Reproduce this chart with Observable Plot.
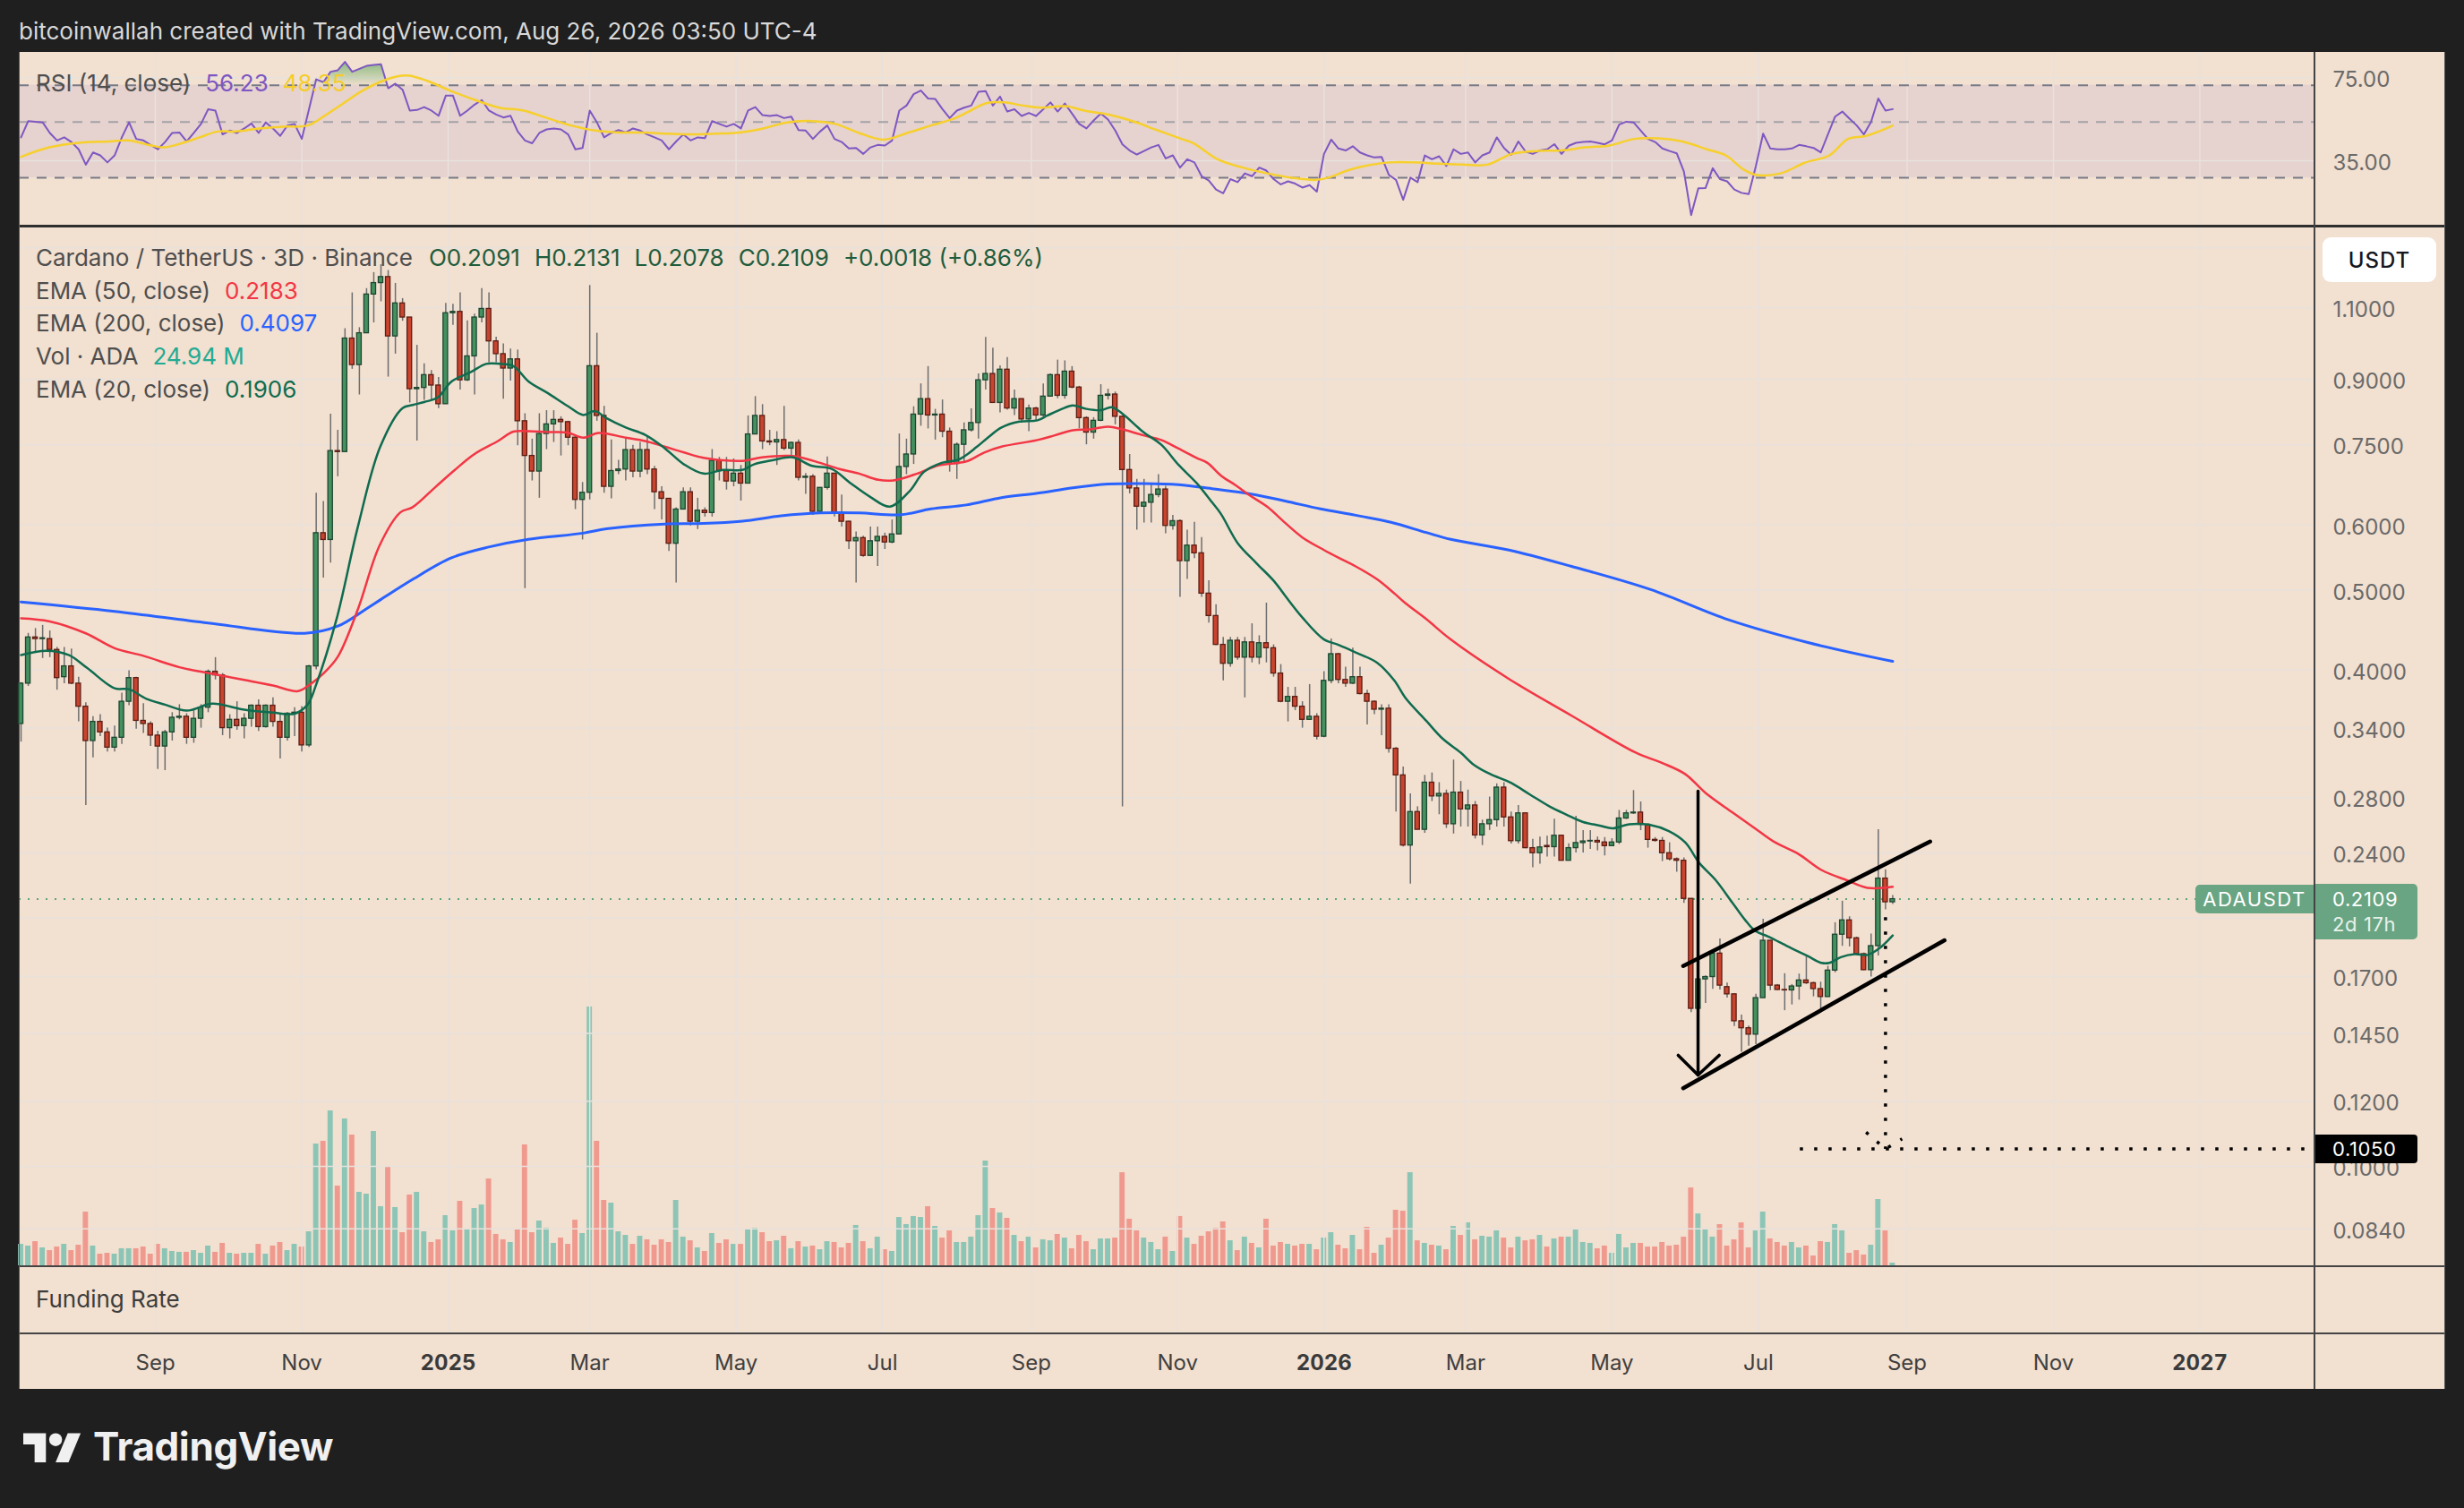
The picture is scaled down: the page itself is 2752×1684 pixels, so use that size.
<!DOCTYPE html>
<html>
<head>
<meta charset="utf-8">
<script src="https://cdn.jsdelivr.net/npm/d3@7"></script>
<script src="https://cdn.jsdelivr.net/npm/@observablehq/plot@0.6"></script>
<style>
  html, body { margin: 0; padding: 0; background: #1f1f1f; }
  #page { position: relative; width: 2752px; height: 1684px; background: #1f1f1f; overflow: hidden; font-family: Inter, "Noto Sans", sans-serif; }
  .abs { position: absolute; }
  .legend { position: absolute; left: 40px; font-size: 26px; line-height: 30px; color: #4e4e4e; white-space: nowrap; }
  .legend .v { margin-left: 16px; }
  .sep { position: absolute; background: #444; }
  .badge { position: absolute; color: #fff; font-size: 22px; box-sizing: border-box; letter-spacing: 0.6px; }
</style>
</head>
<body>
<div id="page">
  <div class="abs" style="left:21px;top:19px;font-size:26px;line-height:32px;color:#d8d8d8;">bitcoinwallah created with TradingView.com, Aug 26, 2026 03:50 UTC-4</div>
  <div class="abs" style="left:21px;top:58px;width:2710px;height:1493px;background:#f2e0d0;"></div>
  <div id="rsi" class="abs" style="left:21px;top:58px;width:2710px;height:193px;"></div>
  <div id="vol" class="abs" style="left:21px;top:253px;width:2710px;height:1160px;"></div>
  <div id="price" class="abs" style="left:21px;top:253px;width:2710px;height:1160px;"></div>
  <div id="bottom" class="abs" style="left:21px;top:1415px;width:2710px;height:136px;"></div>

  <div class="sep" style="left:21px;top:251px;width:2710px;height:3px;background:#2e2e2e;"></div>
  <div class="sep" style="left:21px;top:1413px;width:2710px;height:2px;"></div>
  <div class="sep" style="left:21px;top:1488px;width:2710px;height:2px;"></div>
  <div class="sep" style="left:2584px;top:58px;width:2px;height:1493px;"></div>
  <div class="sep" style="left:21px;top:58px;width:1px;height:1493px;background:#5a5a5a;"></div>
  <div class="sep" style="left:2730px;top:58px;width:1px;height:1493px;background:#5a5a5a;"></div>

  <div class="legend" style="top:78px;">RSI (14, close)<span class="v" style="color:#7e57c2">56.23</span><span class="v" style="color:#f5cd2a">48.35</span></div>
  <div class="legend" style="top:273px;">Cardano / TetherUS · 3D · Binance<span class="v" style="color:#1f5c3d;margin-left:18px">O0.2091</span><span class="v" style="color:#1f5c3d">H0.2131</span><span class="v" style="color:#1f5c3d">L0.2078</span><span class="v" style="color:#1f5c3d">C0.2109</span><span class="v" style="color:#1f5c3d">+0.0018 (+0.86%)</span></div>
  <div class="legend" style="top:310px;">EMA (50, close)<span class="v" style="color:#f23645">0.2183</span></div>
  <div class="legend" style="top:346px;">EMA (200, close)<span class="v" style="color:#2962ff">0.4097</span></div>
  <div class="legend" style="top:383px;">Vol · ADA<span class="v" style="color:#22ab94">24.94 M</span></div>
  <div class="legend" style="top:420px;">EMA (20, close)<span class="v" style="color:#0f6b4f">0.1906</span></div>
  <div class="legend" style="top:1436px;color:#3d3d3d;">Funding Rate</div>

  <div class="abs" style="left:2594px;top:265px;width:127px;height:50px;background:#fff;border-radius:9px;display:flex;align-items:center;justify-content:center;font-size:24px;color:#131722;font-weight:500;letter-spacing:1px;">USDT</div>
  <div id="badges" class="abs" style="left:0;top:0;"></div>

  <svg class="abs" style="left:26px;top:1593px" width="65" height="51" viewBox="0 0 36 28"><path fill="#f0f0f0" d="M14 22H7V11H0V4h14v18zM28 22h-8l7.5-18h8L28 22z"/><circle fill="#f0f0f0" cx="20" cy="8" r="4"/></svg>
  <div class="abs" style="left:104px;top:1590px;font-size:44px;line-height:50px;font-weight:700;color:#f0f0f0;letter-spacing:-0.4px;">TradingView</div>
</div>
<script>
// ---------- time base ----------
const DAY = 864e5;
const firstCandleOpen = Date.UTC(2024, 6, 7);   // first 3D candle shown
const candleDays = 3;
const at = i => new Date(firstCandleOpen + i * candleDays * DAY);
const xDomain = [new Date(Date.UTC(2024, 6, 6, 6)), new Date(Date.UTC(2027, 1, 17, 23))];

// ---------- scales / ticks ----------
const priceDomain = [0.07578, 1.3775];
const priceGridTicks = [1.3, 1.1, 0.9, 0.75, 0.6, 0.5, 0.4, 0.34, 0.28, 0.24, 0.2, 0.17, 0.145, 0.12, 0.1, 0.084];
const priceLabelTicks = [1.1, 0.9, 0.75, 0.6, 0.5, 0.4, 0.34, 0.28, 0.24, 0.17, 0.145, 0.12, 0.1, 0.084];
const rsiDomain = [19.4, 94.6];
const rsiTicks = [75, 35];
const rsiUpper = 70, rsiMiddle = 50, rsiLower = 30;
const volumeDomain = [0, 9630];
const timeTickDates = ["2024-09-01","2024-11-01","2025-01-01","2025-03-01","2025-05-01","2025-07-01","2025-09-01","2025-11-01","2026-01-01","2026-03-01","2026-05-01","2026-07-01","2026-09-01","2026-11-01","2027-01-01"];
const timeTickLabels = ["Sep","Nov","2025","Mar","May","Jul","Sep","Nov","2026","Mar","May","Jul","Sep","Nov","2027"];

// ---------- OHLC (ADA/USDT, 3D) ----------
const opens = [0.344,0.385,0.438,0.436,0.436,0.423,0.392,0.404,0.385,0.361,
0.328,0.346,0.336,0.322,0.331,0.366,0.391,0.347,0.344,0.333,
0.323,0.336,0.350,0.351,0.331,0.349,0.360,0.398,0.394,0.340,
0.348,0.342,0.349,0.362,0.341,0.362,0.346,0.331,0.354,0.355,
0.324,0.404,0.586,0.575,0.737,0.735,1.009,0.937,1.024,1.141,
1.178,1.198,1.015,1.113,1.070,0.876,0.879,0.911,0.885,0.840,
1.083,1.087,0.898,0.960,1.070,1.096,1.001,0.966,0.928,0.952,
0.801,0.727,0.696,0.773,0.794,0.804,0.799,0.765,0.643,0.656,
0.934,0.813,0.667,0.697,0.700,0.739,0.696,0.739,0.700,0.657,
0.645,0.569,0.626,0.657,0.605,0.624,0.620,0.717,0.697,0.677,
0.692,0.673,0.772,0.813,0.757,0.755,0.760,0.742,0.754,0.684,
0.686,0.622,0.665,0.692,0.620,0.605,0.573,0.578,0.550,0.573,
0.580,0.571,0.584,0.705,0.730,0.816,0.852,0.814,0.816,0.778,
0.711,0.750,0.781,0.797,0.898,0.914,0.843,0.925,0.830,0.852,
0.805,0.830,0.814,0.858,0.911,0.860,0.920,0.880,0.808,0.776,
0.802,0.860,0.863,0.811,0.699,0.664,0.631,0.638,0.652,0.662,
0.598,0.606,0.542,0.566,0.554,0.495,0.465,0.429,0.407,0.434,
0.414,0.432,0.414,0.431,0.425,0.396,0.366,0.371,0.361,0.348,
0.351,0.332,0.388,0.418,0.389,0.385,0.392,0.374,0.366,0.358,
0.359,0.321,0.298,0.245,0.269,0.256,0.292,0.281,0.283,0.260,
0.284,0.271,0.274,0.252,0.260,0.263,0.288,0.265,0.248,0.268,
0.2432,0.2398,0.2447,0.2439,0.2518,0.2348,0.2432,0.2467,0.2478,0.2482,
0.2471,0.2446,0.2471,0.2642,0.268,0.2686,0.2596,0.2489,0.2482,0.2398,
0.2358,0.2348,0.2111,0.1553,0.1686,0.1697,0.1812,0.1650,0.1617,0.150,
0.1471,0.1445,0.160,0.1878,0.1657,0.1637,0.1635,0.1653,0.1681,0.1668,
0.1641,0.1605,0.1728,0.191,0.1988,0.1891,0.1809,0.173,0.185,0.2234,
0.2091];
const highs = [0.386,0.443,0.449,0.453,0.446,0.426,0.426,0.424,0.392,0.365,
0.351,0.353,0.340,0.342,0.375,0.399,0.392,0.364,0.346,0.337,
0.338,0.355,0.363,0.354,0.359,0.363,0.400,0.414,0.396,0.353,
0.366,0.354,0.363,0.368,0.363,0.370,0.354,0.355,0.360,0.361,
0.405,0.655,0.640,0.817,0.781,1.037,1.146,1.040,1.160,1.213,
1.240,1.220,1.177,1.128,1.070,0.990,0.940,0.923,0.905,1.113,
1.110,1.146,1.060,1.080,1.160,1.146,1.013,0.994,0.980,0.977,
0.818,0.762,0.818,0.825,0.825,0.811,0.801,0.768,0.675,1.170,
1.024,0.835,0.760,0.718,0.762,0.749,0.755,0.767,0.706,0.667,
0.645,0.629,0.665,0.665,0.646,0.629,0.740,0.724,0.724,0.721,
0.708,0.813,0.858,0.839,0.781,0.778,0.835,0.756,0.760,0.692,
0.690,0.665,0.725,0.692,0.652,0.606,0.588,0.581,0.596,0.596,
0.586,0.608,0.773,0.762,0.834,0.889,0.933,0.828,0.850,0.786,
0.754,0.797,0.829,0.914,1.012,0.982,0.935,0.957,0.874,0.852,
0.838,0.833,0.889,0.914,0.950,0.948,0.933,0.883,0.811,0.809,
0.887,0.876,0.869,0.814,0.730,0.681,0.681,0.674,0.690,0.668,
0.616,0.608,0.591,0.604,0.579,0.513,0.480,0.438,0.438,0.438,
0.438,0.455,0.440,0.482,0.429,0.406,0.381,0.381,0.366,0.384,
0.354,0.398,0.436,0.419,0.403,0.425,0.403,0.378,0.367,0.363,
0.363,0.322,0.305,0.283,0.273,0.298,0.300,0.292,0.286,0.311,
0.293,0.286,0.277,0.263,0.2805,0.291,0.292,0.269,0.274,0.268,
0.2492,0.2508,0.2514,0.2637,0.252,0.2462,0.2658,0.2555,0.2555,0.2509,
0.2505,0.2497,0.2702,0.2702,0.2856,0.2767,0.2603,0.2505,0.2505,0.2469,
0.2367,0.2367,0.2111,0.1733,0.1703,0.1823,0.1888,0.1669,0.1619,0.1526,
0.148,0.1617,0.1994,0.1878,0.1662,0.1713,0.1662,0.1711,0.1795,0.1673,
0.1673,0.1749,0.1975,0.2097,0.2008,0.1897,0.1815,0.1913,0.2561,0.2289,
0.2131];
const lows = [0.327,0.382,0.420,0.413,0.414,0.378,0.385,0.384,0.346,0.274,
0.313,0.332,0.318,0.318,0.325,0.362,0.339,0.335,0.323,0.303,
0.302,0.328,0.348,0.325,0.326,0.340,0.355,0.389,0.333,0.330,
0.338,0.330,0.341,0.337,0.340,0.341,0.312,0.328,0.332,0.318,
0.322,0.400,0.517,0.539,0.686,0.735,0.926,0.862,1.024,1.054,
1.118,0.906,0.966,1.059,0.843,0.758,0.849,0.849,0.830,0.840,
1.047,0.874,0.895,0.862,1.054,0.943,0.943,0.852,0.896,0.748,
0.502,0.678,0.646,0.740,0.755,0.727,0.748,0.626,0.575,0.643,
0.801,0.655,0.645,0.690,0.678,0.684,0.684,0.690,0.626,0.608,
0.557,0.510,0.626,0.598,0.592,0.613,0.613,0.678,0.661,0.667,
0.641,0.673,0.772,0.740,0.748,0.708,0.738,0.724,0.678,0.653,
0.616,0.620,0.661,0.613,0.596,0.560,0.510,0.548,0.549,0.534,
0.560,0.569,0.584,0.690,0.710,0.790,0.784,0.760,0.765,0.695,
0.681,0.713,0.777,0.762,0.874,0.842,0.820,0.826,0.814,0.800,
0.778,0.800,0.811,0.858,0.853,0.852,0.877,0.784,0.750,0.762,
0.800,0.850,0.793,0.273,0.654,0.591,0.603,0.603,0.647,0.585,
0.591,0.490,0.515,0.546,0.490,0.456,0.428,0.388,0.403,0.411,
0.370,0.408,0.406,0.408,0.392,0.365,0.346,0.357,0.340,0.348,
0.329,0.331,0.385,0.385,0.381,0.384,0.373,0.343,0.353,0.333,
0.317,0.269,0.244,0.220,0.256,0.2535,0.277,0.267,0.257,0.253,
0.258,0.258,0.2495,0.245,0.2555,0.258,0.258,0.246,0.246,0.2428,
0.2303,0.2326,0.2372,0.2372,0.2346,0.2346,0.240,0.240,0.2423,0.2414,
0.238,0.2444,0.2457,0.2635,0.2672,0.2554,0.2432,0.2473,0.2343,0.2346,
0.2274,0.2085,0.1537,0.1478,0.1577,0.164,0.1637,0.160,0.1478,0.1376,
0.1399,0.1405,0.160,0.1634,0.1634,0.1545,0.157,0.1591,0.1662,0.1606,
0.1535,0.1603,0.1717,0.1849,0.1846,0.1804,0.1728,0.1697,0.18,0.2047,
0.2078];
const closes = [0.385,0.438,0.436,0.437,0.423,0.391,0.404,0.385,0.361,0.328,
0.346,0.336,0.322,0.331,0.366,0.391,0.347,0.344,0.333,0.323,
0.336,0.350,0.351,0.331,0.349,0.360,0.398,0.394,0.340,0.348,
0.342,0.349,0.362,0.341,0.362,0.346,0.331,0.354,0.355,0.324,
0.404,0.586,0.575,0.737,0.735,1.009,0.937,1.024,1.141,1.178,
1.198,1.015,1.113,1.070,0.876,0.879,0.911,0.885,0.840,1.083,
1.087,0.898,0.960,1.070,1.096,1.001,0.966,0.928,0.952,0.801,
0.727,0.696,0.773,0.794,0.804,0.799,0.765,0.643,0.656,0.934,
0.813,0.667,0.697,0.700,0.739,0.696,0.739,0.700,0.657,0.645,
0.569,0.626,0.657,0.605,0.624,0.620,0.717,0.697,0.677,0.692,
0.673,0.772,0.813,0.757,0.755,0.760,0.742,0.754,0.684,0.686,
0.622,0.665,0.692,0.620,0.605,0.573,0.578,0.550,0.573,0.580,
0.571,0.584,0.705,0.730,0.816,0.852,0.814,0.816,0.778,0.711,
0.750,0.781,0.797,0.898,0.914,0.843,0.925,0.830,0.852,0.805,
0.830,0.814,0.858,0.911,0.860,0.920,0.880,0.808,0.776,0.802,
0.860,0.863,0.811,0.699,0.664,0.631,0.638,0.652,0.662,0.598,
0.606,0.542,0.566,0.554,0.495,0.465,0.429,0.407,0.434,0.414,
0.432,0.414,0.431,0.425,0.396,0.366,0.371,0.361,0.348,0.351,
0.332,0.388,0.418,0.389,0.385,0.392,0.374,0.366,0.358,0.359,
0.321,0.298,0.245,0.269,0.256,0.292,0.281,0.283,0.260,0.284,
0.271,0.274,0.252,0.260,0.263,0.288,0.265,0.248,0.268,0.2432,
0.2398,0.2437,0.2439,0.2518,0.2348,0.2432,0.2467,0.2478,0.2482,0.2471,
0.2446,0.2471,0.2642,0.268,0.2686,0.2596,0.2489,0.2482,0.2398,0.2358,
0.2348,0.2111,0.1553,0.1686,0.1697,0.1812,0.1657,0.1617,0.150,0.1471,
0.1445,0.160,0.1878,0.1657,0.1637,0.1635,0.1653,0.1681,0.1668,0.1641,
0.1605,0.1728,0.191,0.1988,0.1891,0.1809,0.173,0.185,0.2234,0.2091,
0.2109];

// ---------- volume (millions of ADA) ----------
const volumes = [199,183,224,166,141,174,199,141,191,498,
183,108,116,108,158,158,158,174,108,199,
158,133,125,125,141,116,183,125,208,116,
108,116,116,199,108,183,216,141,199,174,
315,1129,1154,1436,739,1361,1212,681,664,1245,
548,913,540,307,656,681,315,216,241,465,
324,598,340,531,564,805,291,241,216,340,
1121,307,415,349,208,257,199,423,299,2399,
1154,606,581,315,282,199,274,241,191,241,
216,606,266,232,166,133,299,208,241,199,
199,340,349,307,224,232,274,158,224,174,
183,149,224,216,166,208,374,224,158,266,
149,133,448,382,457,448,548,365,257,324,
216,216,266,465,971,531,490,440,282,224,
266,166,241,232,291,257,158,282,224,149,
249,249,257,863,432,324,257,216,149,266,
133,457,257,199,274,315,349,407,232,141,
266,208,166,432,183,216,199,183,199,199,
149,257,307,191,158,282,149,357,116,191,
257,515,506,863,232,208,191,183,149,365,
282,398,241,274,266,324,257,166,266,232,
241,282,174,249,266,266,332,216,208,158,
183,116,291,166,208,208,174,174,216,183,
191,266,722,481,332,266,382,183,241,398,
166,324,498,249,216,183,216,166,183,91,
224,216,382,324,116,141,100,191,614,324,
24.94];

// ---------- RSI(14) ----------
const rsiValues = [43.4,50.4,50.1,49.8,45.2,42.2,43.4,41.6,38.9,33.8,
37.8,36.8,34.5,36.8,43.4,49.8,42.8,42.2,40.5,38.9,
41.6,45.2,45.4,41.8,45.2,49.1,56.2,55.5,44.6,46.2,
45.2,47.1,49.3,45.2,49.8,47.1,44.0,48.4,49.1,42.8,
56.2,73.9,72.0,79.2,80.3,86.7,79.2,81.4,83.6,84.4,
84.8,68.1,71.0,67.2,55.5,55.8,57.3,55.5,52.9,63.6,
63.6,52.9,55.5,58.6,61.1,55.5,53.5,52.1,52.9,45.8,
42.2,41.1,45.2,46.7,47.1,46.7,44.6,38.9,39.4,55.5,
49.8,43.4,45.2,46.4,45.4,47.1,46.2,44.6,43.4,42.2,
38.9,41.8,44.6,42.2,43.4,43.1,50.4,49.1,47.9,49.1,
47.1,55.5,57.3,53.2,52.8,53.2,51.8,52.5,46.4,46.2,
42.8,45.8,48.4,42.8,41.6,39.2,39.4,37.3,39.6,40.5,
40.3,42.2,55.5,58.1,64.5,66.7,62.0,61.7,56.2,51.8,
55.5,57.0,58.1,65.9,66.3,58.1,63.1,55.0,56.2,52.8,
54.3,52.8,56.2,59.8,55.0,59.2,54.0,49.1,47.1,50.7,
54.0,51.1,46.2,40.7,38.5,37.1,38.3,39.6,40.5,35.8,
36.8,32.9,35.5,34.5,30.4,29.2,26.9,26.0,29.6,28.8,
31.2,30.4,32.9,32.0,29.6,28.2,29.0,28.4,27.4,28.0,
26.4,37.3,42.5,39.2,38.5,40.0,37.8,36.8,36.1,36.3,
30.8,29.4,24.5,30.0,28.8,36.8,35.5,36.5,33.4,38.9,
37.3,37.8,34.5,36.8,37.8,43.4,39.4,37.0,41.8,38.1,
37.3,38.5,38.9,40.8,37.3,40.2,41.3,41.6,41.8,41.3,
40.7,42.2,48.8,50.1,49.8,46.2,42.8,41.6,39.2,38.3,
37.5,31.7,21.3,27.2,27.3,32.7,29.6,29.0,26.9,26.1,
25.8,33.4,44.9,39.2,38.9,38.9,39.2,40.5,40.0,39.4,
37.8,44.6,52.5,55.0,51.5,48.4,44.6,50.1,62.0,55.5,
56.23];

// RSI-based MA: [candle index, value]
const rsiMaPts = [[0,36.3],[3.9,39.6],[8.1,41.3],[12.3,41.8],[14.8,42.2],[18.1,40.3],[19.8,39.6],[22.3,41.1],[24.8,43.4],[27.3,45.8],[29.8,45.8],[33.1,47.1],[36.4,47.9],[39.8,48.4],[42.3,53.2],[44.8,59.4],[47.3,66.3],[49.8,72.0],[52.3,76.0],[53.9,76.4],[56.4,72.9],[59.8,66.3],[63.1,61.1],[66.4,57.0],[69.8,55.5],[73.1,51.8],[76.4,48.4],[79.8,46.2],[83.1,45.4],[86.4,45.4],[89.8,44.9],[93.1,44.6],[96.4,44.9],[99.8,45.4],[103.1,47.1],[106.4,49.8],[109.8,50.4],[113.1,49.1],[116.4,45.2],[119.8,42.5],[123.1,45.2],[126.4,48.4],[129.8,51.8],[131.5,54.7],[134.1,59.4],[136.6,59.8],[139.2,58.1],[141.7,57.0],[145.1,57.8],[147.7,55.5],[151.1,53.5],[154.4,50.4],[157.8,46.4],[161.2,42.8],[162.9,41.1],[166.3,35.4],[169.7,32.9],[173.1,31.2],[176.5,30.0],[179.9,29.4],[181.6,30.0],[184.2,32.0],[186.7,33.4],[190.1,34.5],[193.5,34.5],[196.9,34.1],[200.3,33.8],[203.7,33.8],[207.1,37.3],[210.5,38.3],[213.9,38.5],[217.3,39.6],[220.7,40.3],[224.1,42.8],[227.5,43.0],[230.8,41.8],[234.2,38.9],[236.8,36.8],[239.3,32.3],[241.0,30.8],[244.4,31.2],[247.8,34.4],[251.2,36.8],[253.8,42.8],[256.3,44.0],[259.7,47.9],[260,48.35]];

// EMA lines: [candle index, value]
const ema20Pts = [[0,0.417],[3.5,0.422],[6.6,0.417],[9.2,0.402],[13,0.380],[15,0.379],[17.4,0.369],[20,0.363],[23,0.357],[26.6,0.364],[30.6,0.3585],[35,0.355],[38,0.354],[39.8,0.363],[41,0.384],[43.8,0.46],[46.8,0.597],[49.9,0.746],[53.0,0.831],[54.4,0.838],[56.0,0.845],[57.9,0.856],[59.8,0.895],[62.5,0.919],[64.6,0.94],[66.5,0.94],[68.4,0.934],[70.5,0.895],[73.2,0.866],[75.9,0.836],[78.1,0.815],[79.7,0.824],[81.3,0.808],[84.0,0.787],[86.7,0.771],[89.4,0.743],[92.1,0.71],[94.8,0.692],[97.5,0.699],[100.2,0.699],[101.8,0.71],[104.5,0.7185],[107.2,0.724],[109.9,0.707],[112.6,0.701],[115.3,0.673],[118.0,0.648],[120.7,0.631],[123.5,0.66],[125.4,0.695],[127.9,0.713],[130.3,0.720],[132.8,0.746],[134.3,0.765],[136.2,0.787],[138.7,0.800],[141.2,0.803],[142.6,0.814],[144.6,0.829],[146.1,0.837],[148,0.829],[150,0.826],[151.5,0.833],[153,0.818],[155.9,0.777],[158.4,0.750],[160.8,0.709],[163.3,0.674],[165.3,0.641],[166.7,0.618],[169,0.570],[171.6,0.539],[174.1,0.512],[175.6,0.492],[178,0.463],[181,0.4355],[183,0.429],[185.4,0.420],[188.4,0.408],[190.8,0.388],[192.3,0.370],[195.2,0.347],[197.5,0.330],[200,0.3175],[201.8,0.307],[204.1,0.299],[206.9,0.292],[209.6,0.2825],[212.4,0.273],[214.7,0.267],[217,0.2616],[219.3,0.259],[221.1,0.257],[223.4,0.260],[226.2,0.2596],[228.9,0.255],[231.2,0.247],[233.1,0.2335],[235.4,0.2225],[237.7,0.209],[239.5,0.199],[240.9,0.193],[242.7,0.190],[245.5,0.1847],[248.2,0.1799],[250.1,0.1765],[251.2,0.1765],[252.8,0.1794],[254.7,0.1809],[256.5,0.1805],[258.1,0.1837],[260,0.1906]];
const ema50Pts = [[0,0.462],[4,0.458],[9,0.443],[13,0.425],[17,0.416],[22,0.403],[25,0.398],[31,0.389],[35,0.383],[38.5,0.377],[40.3,0.385],[42,0.396],[44,0.415],[46.8,0.474],[49.8,0.566],[52.7,0.621],[54.4,0.63],[57.6,0.667],[60.3,0.6996],[63.0,0.7309],[66.2,0.7574],[68.4,0.778],[70.5,0.779],[73.2,0.777],[75.9,0.776],[78.1,0.765],[80.2,0.775],[84.0,0.765],[86.7,0.758],[89.4,0.746],[92.1,0.734],[94.8,0.723],[97.5,0.718],[100.2,0.717],[102.9,0.724],[106.7,0.727],[108.3,0.724],[111.0,0.713],[113.7,0.701],[116.4,0.692],[119.1,0.680],[121.2,0.679],[124.5,0.692],[127.4,0.708],[131.3,0.716],[133.8,0.734],[136.2,0.746],[141.2,0.760],[143.6,0.770],[146.1,0.781],[148.5,0.783],[151,0.789],[153.5,0.781],[155.9,0.770],[158.4,0.760],[160.8,0.742],[163.3,0.723],[164.8,0.713],[166.7,0.688],[168.7,0.670],[170.7,0.651],[173.1,0.631],[175.6,0.603],[178,0.579],[181,0.559],[183.4,0.545],[185.4,0.534],[188.4,0.515],[190.8,0.495],[192.3,0.482],[195.2,0.461],[198.6,0.4355],[206.7,0.39],[215.4,0.352],[224.3,0.3175],[228,0.3084],[231.2,0.2989],[234,0.2837],[237.7,0.2688],[240.9,0.2569],[243.6,0.2473],[246.9,0.2393],[250.1,0.2288],[253.7,0.2222],[256.5,0.2177],[260,0.2183]];
const ema200Pts = [[0,0.4835],[13,0.471],[26,0.456],[39.4,0.443],[44,0.452],[47.9,0.474],[50.0,0.487],[54.4,0.515],[59.8,0.547],[65.1,0.564],[70.5,0.576],[78.1,0.586],[81.3,0.593],[89.4,0.601],[94.8,0.602],[100.2,0.606],[105.6,0.615],[111.0,0.620],[116.4,0.620],[122.3,0.617],[126.4,0.627],[131.3,0.634],[136.2,0.647],[141.2,0.655],[146.1,0.665],[151,0.672],[155.9,0.673],[160.8,0.671],[165.7,0.663],[170.7,0.654],[175.6,0.641],[180.5,0.627],[185.4,0.616],[190.3,0.604],[195.2,0.587],[198.6,0.576],[206.7,0.559],[215.4,0.534],[226.4,0.5005],[237.2,0.460],[248.1,0.432],[260,0.4097]];

// ---------- drawings: [candle index, price] ----------
const channelUpper = [[230.9, 0.175], [265.2, 0.2477]];
const channelLower = [[230.9, 0.1244], [267.2, 0.188]];
const dropArrowShaft = [[232.96, 0.2852], [232.96, 0.1291]];
const dropArrowHead = [[230.2, 0.1364], [232.96, 0.1291], [235.9, 0.1364]];
const projectionShaft = [[259.0, 0.2005], [259.0, 0.1050]];
const projectionHead = [[256.3, 0.1100], [259.0, 0.1050], [261.3, 0.1080]];
const targetPrice = 0.1050;
const targetLine = [[247.1, targetPrice], [318.0, targetPrice]];
const lastClose = closes[closes.length - 1];

// ---------- build ----------
const candles = closes.map((c, i) => ({
  date: at(i), open: opens[i], high: highs[i], low: lows[i], close: c,
  volume: volumes[i], rsi: rsiValues[i], up: c >= opens[i]
}));
const toPts = arr => arr.map(([i, v]) => ({date: at(i), value: v}));
const timeTicks = timeTickDates.map(s => new Date(s + "T00:00:00Z"));
const labelOf = new Map(timeTicks.map((t, i) => [+t, timeTickLabels[i]]));
const yearTicks = timeTicks.filter((t, i) => /^\d{4}$/.test(timeTickLabels[i]));
const monthTicks = timeTicks.filter((t, i) => !/^\d{4}$/.test(timeTickLabels[i]));

const W = 2710, MR = 146;
const gridColor = "#e8e2dd";
const axisGray = "#6a6a6a";
const baseStyle = {background: "transparent", fontFamily: "Inter, 'Noto Sans', sans-serif", fontSize: "24px", color: axisGray, overflow: "visible", maxWidth: "none"};
const common = {width: W, marginLeft: 0, marginRight: MR, marginTop: 0, marginBottom: 0, style: baseStyle};
const xOpt = {type: "utc", domain: xDomain, axis: null};
const halfBody = 0.95 * DAY, halfVol = 1.1 * DAY;
const ptLine = (data, opts) => Plot.line(data, {x: d => at(d[0]), y: d => d[1], stroke: "#000", strokeLinecap: "round", strokeLinejoin: "round", ...opts});
const dotted = {strokeWidth: 3.5, strokeDasharray: "3.5,12.5", strokeLinecap: "butt"};
const rightLabels = (ticks, fmt) => Plot.text(ticks, {y: d => d, text: fmt, frameAnchor: "right", textAnchor: "start", dx: 20, dy: 3, fill: axisGray, fontSize: 24});

// RSI pane
const rsiBand = [{lo: rsiLower, hi: rsiUpper}];
const rsiPlot = Plot.plot({
  ...common, height: 193,
  x: xOpt,
  y: {type: "log", domain: rsiDomain, axis: null},
  marks: [
    Plot.rect(rsiBand, {y1: "lo", y2: "hi", fill: "#7e57c2", fillOpacity: 0.1}),
    Plot.gridY(rsiTicks, {stroke: gridColor, strokeOpacity: 1, strokeWidth: 1.5}),
    Plot.gridX(timeTicks, {stroke: gridColor, strokeOpacity: 1, strokeWidth: 1.5}),
    Plot.ruleY([rsiUpper, rsiLower], {stroke: "#787b86", strokeWidth: 2, strokeDasharray: "11,9"}),
    Plot.ruleY([rsiMiddle], {stroke: "#a3a3a8", strokeWidth: 2, strokeDasharray: "11,9"}),
    Plot.areaY(candles, {x: "date", y1: () => rsiUpper, y2: d => Math.max(d.rsi, rsiUpper), fill: "url(#rsiOB)"}),
    Plot.lineY(candles, {x: "date", y: "rsi", stroke: "#7e57c2", strokeWidth: 2}),
    Plot.line(toPts(rsiMaPts), {x: "date", y: "value", stroke: "#f7d02c", strokeWidth: 2.5, curve: "catmull-rom"}),
    rightLabels(rsiTicks, d => d.toFixed(2))
  ]
});
const defs = d3.select(rsiPlot).insert("defs", ":first-child");
const grad = defs.append("linearGradient").attr("id", "rsiOB").attr("x1", 0).attr("y1", 0).attr("x2", 0).attr("y2", 1);
grad.append("stop").attr("offset", "0%").attr("stop-color", "#43a047").attr("stop-opacity", 0.6);
grad.append("stop").attr("offset", "100%").attr("stop-color", "#43a047").attr("stop-opacity", 0.04);
document.getElementById("rsi").appendChild(rsiPlot);

// Volume overlay
const volPlot = Plot.plot({
  ...common, height: 1160,
  x: xOpt,
  y: {domain: volumeDomain, axis: null},
  marks: [
    Plot.rectY(candles, {x1: d => new Date(+d.date - halfVol), x2: d => new Date(+d.date + halfVol), y: "volume", fill: d => d.up ? "#8cc5b5" : "#f09a8f"})
  ]
});
document.getElementById("vol").appendChild(volPlot);

// Price pane
const pricePlot = Plot.plot({
  ...common, height: 1160,
  x: xOpt,
  y: {type: "log", domain: priceDomain, axis: null},
  marks: [
    Plot.gridY(priceGridTicks, {stroke: gridColor, strokeOpacity: 1, strokeWidth: 1.5}),
    Plot.gridX(timeTicks, {stroke: gridColor, strokeOpacity: 1, strokeWidth: 1.5}),
    Plot.ruleY([lastClose], {stroke: "#5ba67e", strokeWidth: 2, strokeDasharray: "2,8"}),
    Plot.ruleX(candles, {x: "date", y1: "low", y2: "high", stroke: "#6e6e6e", strokeWidth: 1.5}),
    Plot.rect(candles, {
      x1: d => new Date(+d.date - halfBody), x2: d => new Date(+d.date + halfBody),
      y1: d => Math.min(d.open, d.close), y2: d => Math.max(d.open, d.close),
      fill: d => d.up ? "#44905f" : "#c9442f", stroke: d => d.up ? "#1c4630" : "#5b1d13", strokeWidth: 1.3
    }),
    Plot.line(toPts(ema200Pts), {x: "date", y: "value", stroke: "#2962ff", strokeWidth: 3, curve: "catmull-rom"}),
    Plot.line(toPts(ema50Pts), {x: "date", y: "value", stroke: "#f23645", strokeWidth: 2.5, curve: "catmull-rom"}),
    Plot.line(toPts(ema20Pts), {x: "date", y: "value", stroke: "#0f6b4f", strokeWidth: 2.5, curve: "catmull-rom"}),
    ptLine(channelUpper, {strokeWidth: 4.5}),
    ptLine(channelLower, {strokeWidth: 4.5}),
    ptLine(dropArrowShaft, {strokeWidth: 3.5}),
    ptLine(dropArrowHead, {strokeWidth: 3.5}),
    ptLine(projectionShaft, dotted),
    ptLine(projectionHead, dotted),
    ptLine(targetLine, dotted),
    rightLabels(priceLabelTicks, d => d.toFixed(4))
  ]
});
document.getElementById("price").appendChild(pricePlot);

// Funding pane + time axis
const bottomPlot = Plot.plot({
  ...common, height: 136, marginBottom: 62,
  x: {type: "utc", domain: xDomain},
  marks: [
    Plot.gridX(timeTicks, {stroke: gridColor, strokeOpacity: 1, strokeWidth: 1.5}),
    Plot.axisX(monthTicks, {tickSize: 0, tickPadding: 23, tickFormat: d => labelOf.get(+d), label: null, fill: "#3f3f3f"}),
    Plot.axisX(yearTicks, {tickSize: 0, tickPadding: 23, tickFormat: d => labelOf.get(+d), label: null, fill: "#3a3a3a", fontWeight: "bold"})
  ]
});
document.getElementById("bottom").appendChild(bottomPlot);

// axis badges positioned with the same log scale as the price pane
const yPrice = d3.scaleLog().domain(priceDomain).range([1413, 253]);
const yNow = yPrice(lastClose), yTgt = yPrice(targetPrice);
const badges = document.getElementById("badges");
function badge(html, css) { const d = document.createElement("div"); d.className = "badge"; d.innerHTML = html; Object.assign(d.style, css); badges.appendChild(d); }
badge("ADAUSDT", {left: "2452px", top: (yNow - 16) + "px", width: "132px", height: "32px", background: "#69a582", borderRadius: "5px 0 0 5px", display: "flex", alignItems: "center", justifyContent: "center", letterSpacing: "1.5px"});
badge(lastClose.toFixed(4) + "<br><span style='opacity:0.85'>2d 17h</span>", {left: "2586px", top: (yNow - 17) + "px", width: "114px", height: "62px", background: "#69a582", borderRadius: "0 5px 5px 0", paddingLeft: "19px", paddingTop: "3px", lineHeight: "28px"});
badge(targetPrice.toFixed(4), {left: "2586px", top: (yTgt - 16) + "px", width: "114px", height: "32px", background: "#000", borderRadius: "0 4px 4px 0", paddingLeft: "19px", lineHeight: "32px"});
</script>
</body>
</html>
